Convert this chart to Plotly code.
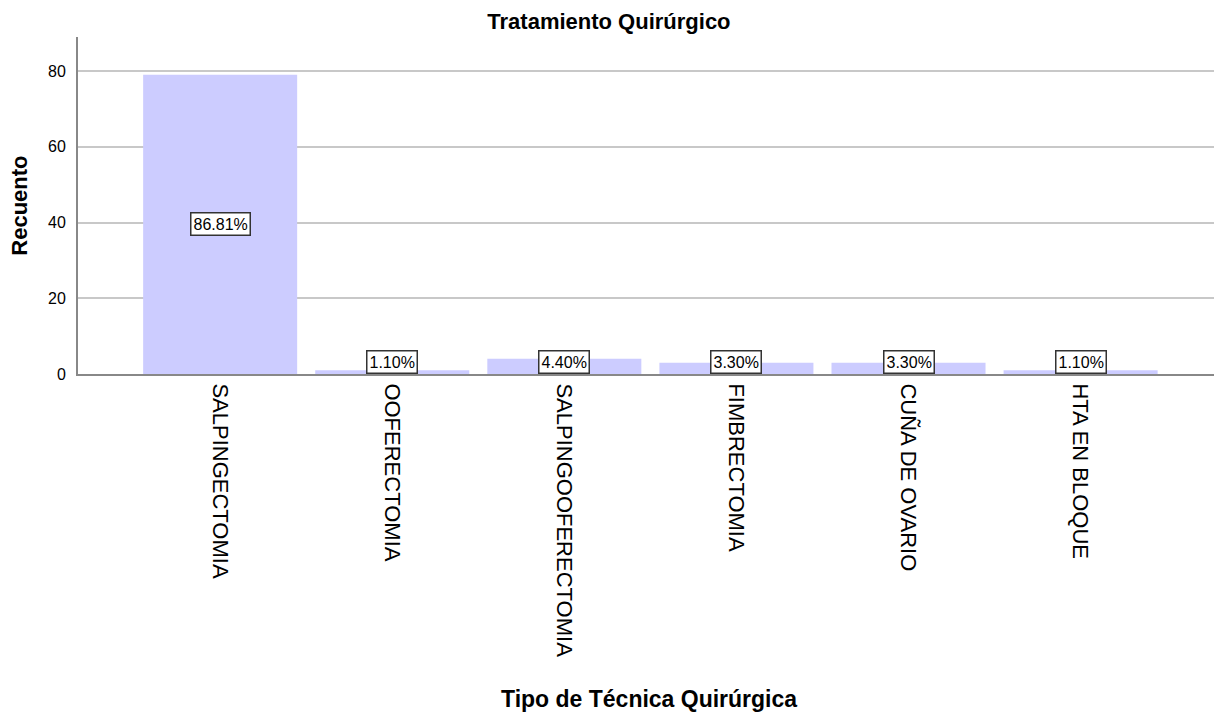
import plotly.graph_objects as go

# Datos
tecnicas = ["SALPINGECTOMIA", "OOFERECTOMIA", "SALPINGOOFERECTOMIA",
            "FIMBRECTOMIA", "CUÑA DE OVARIO", "HTA EN BLOQUE"]
recuento = [79, 1, 4, 3, 3, 1]

total = sum(recuento)
porcentajes = [f"{v / total * 100:.2f}%" for v in recuento]

BAR_COLOR = "#CCCCFF"
GRID = "#C8C8C8"
AXIS = "#888888"
FONT = "Liberation Sans, Arial, sans-serif"

fig = go.Figure()
fig.add_trace(go.Bar(
    x=list(range(len(tecnicas))), y=recuento,
    marker=dict(color=BAR_COLOR, line=dict(width=0)),
    hoverinfo="x+y",
))

# etiquetas de porcentaje en caja
for i, (v, p) in enumerate(zip(recuento, porcentajes)):
    big = v > 20
    fig.add_annotation(
        x=i, y=v / 2 if big else 0,
        yanchor="middle" if big else "bottom",
        text=p, showarrow=False,
        font=dict(family=FONT, size=16, color="black"),
        bgcolor="white", bordercolor="#333333", borderwidth=1.5, borderpad=2,
    )

# titulos de ejes
fig.add_annotation(
    text="<b>Tipo de Técnica Quirúrgica</b>", xref="paper", yref="paper",
    x=0.5, y=-0.964, yanchor="middle", showarrow=False,
    font=dict(family=FONT, size=23, color="black"),
)
fig.add_annotation(
    text="<b>Recuento</b>", xref="paper", yref="paper",
    x=-0.0515, y=0.5, xanchor="center", textangle=-90, showarrow=False,
    borderpad=0,
    font=dict(family=FONT, size=22, color="black"),
)

fig.update_layout(
    width=1214, height=707,
    margin=dict(l=70, r=2, t=29, b=341),
    plot_bgcolor="white", paper_bgcolor="white",
    bargap=0.105,
    showlegend=False,
    font=dict(family=FONT, size=16, color="black"),
    title=dict(text="<b>Tratamiento Quirúrgico</b>", x=0.495, xanchor="center",
               xref="container", y=0.981, yanchor="middle",
               font=dict(size=22, family=FONT)),
)

fig.update_xaxes(
    range=[-0.826, 5.81],
    tickvals=list(range(len(tecnicas))), ticktext=tecnicas,
    tickangle=90, tickfont=dict(size=22, family=FONT),
    showline=True, linecolor=AXIS, linewidth=2,
    showgrid=False, ticks="", ticklabelstandoff=3,
    zeroline=False,
)
fig.update_yaxes(
    range=[0, 89], tickvals=[0, 20, 40, 60, 80],
    tickfont=dict(size=16, family=FONT),
    showline=True, linecolor=AXIS, linewidth=2,
    showgrid=True, gridcolor=GRID, gridwidth=1.5,
    zeroline=False, ticks="", ticklabelstandoff=7,
)

fig.write_html("out.html")
